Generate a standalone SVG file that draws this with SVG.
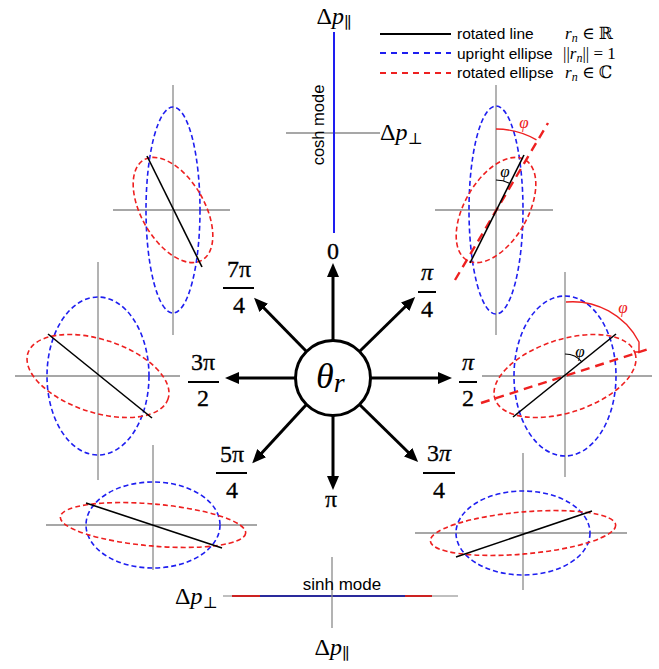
<svg xmlns="http://www.w3.org/2000/svg" width="659" height="669" viewBox="0 0 659 669">
<style>
.ax{stroke:#8a8a8a;stroke-width:1.3;fill:none}
.bl{stroke:#1e1ef0;stroke-width:1.6;fill:none;stroke-dasharray:5 3}
.rd{stroke:#ee2020;stroke-width:1.6;fill:none;stroke-dasharray:5 3}
.ln{stroke:#000;stroke-width:1.6;fill:none}
.rdl{stroke:#ee2020;stroke-width:2.4;fill:none;stroke-dasharray:9 6}
.arcr{stroke:#ee2020;stroke-width:1.4;fill:none}
.arck{stroke:#000;stroke-width:1.2;fill:none}
.sans{font-family:"Liberation Sans",Arial,sans-serif;fill:#000}
.ser{font-family:"Liberation Serif","DejaVu Serif",serif;fill:#000}
.frac{font-family:"Liberation Serif","DejaVu Serif",serif;font-size:24px;text-anchor:middle;fill:#000;stroke:#000;stroke-width:0.3}
.bar{stroke:#000;stroke-width:2}
.arr{stroke:#000;stroke-width:3;fill:none;marker-end:url(#ah)}
</style>
<defs>
<marker id="ah" markerUnits="userSpaceOnUse" markerWidth="15" markerHeight="12" refX="4" refY="6" orient="auto">
<path d="M0,0 L14,6 L0,12 z" fill="#000"/>
</marker>
</defs>
<rect width="659" height="669" fill="#fff"/>

<!-- legend -->
<g id="legend">
<line x1="380" y1="34" x2="451" y2="34" stroke="#000" stroke-width="2"/>
<line x1="380" y1="53" x2="451" y2="53" stroke="#1e1ef0" stroke-width="2" stroke-dasharray="6 5"/>
<line x1="380" y1="73" x2="451" y2="73" stroke="#ee2020" stroke-width="2" stroke-dasharray="6 5"/>
<text class="sans" x="457" y="39" font-size="15.5">rotated line</text>
<text class="sans" x="457" y="58.5" font-size="15.5">upright ellipse</text>
<text class="sans" x="457" y="78" font-size="15.5">rotated ellipse</text>
<text class="ser" x="565" y="39" font-size="17"><tspan font-style="italic">r</tspan><tspan font-style="italic" font-size="12" dy="3">n</tspan><tspan dy="-3"> ∈ ℝ</tspan></text>
<text class="ser" x="563" y="58.5" font-size="17">||<tspan font-style="italic">r</tspan><tspan font-style="italic" font-size="12" dy="3">n</tspan><tspan dy="-3">|| = 1</tspan></text>
<text class="ser" x="565" y="78" font-size="17"><tspan font-style="italic">r</tspan><tspan font-style="italic" font-size="12" dy="3">n</tspan><tspan dy="-3"> ∈ ℂ</tspan></text>
</g>

<!-- cosh mode (0) -->
<g id="cosh">
<line class="ax" x1="286" y1="133" x2="380" y2="133"/>
<line x1="334" y1="32" x2="334" y2="233" stroke="#1e1ef0" stroke-width="2"/>
<text class="ser" x="334" y="24" font-size="24" text-anchor="middle">Δ<tspan font-style="italic">p</tspan><tspan font-size="16" dy="4">∥</tspan></text>
<text class="ser" x="380" y="140" font-size="24">Δ<tspan font-style="italic">p</tspan><tspan font-size="16" dy="4">⊥</tspan></text>
<text class="sans" font-size="16.5" text-anchor="middle" transform="translate(324,125) rotate(-90)">cosh mode</text>
</g>

<!-- pi/4 -->
<g id="e_pi4" transform="translate(496,210)">
<line class="ax" x1="0" y1="-125" x2="0" y2="125"/>
<line class="ax" x1="-61" y1="0" x2="57" y2="0"/>
<ellipse class="bl" cx="0" cy="0" rx="27" ry="104"/>
<ellipse class="rd" cx="0" cy="0" rx="31.5" ry="58" transform="rotate(30)"/>
<line class="rdl" x1="-41" y1="70" x2="52" y2="-87"/>
<line class="ln" x1="-26" y1="53" x2="28" y2="-55"/>
<path class="arcr" d="M0,-81 A81,81 0 0 1 40.5,-70.1"/>
<path class="arck" d="M0,-30 A30,30 0 0 1 13.4,-26.8"/>
<text class="ser" x="28" y="-82" font-size="17" font-style="italic" style="fill:#ee2020" text-anchor="middle">φ</text>
<text class="ser" x="9" y="-33" font-size="17" font-style="italic" text-anchor="middle">φ</text>
</g>

<!-- pi/2 -->
<g id="e_pi2" transform="translate(565,376)">
<line class="ax" x1="0" y1="-104" x2="0" y2="101"/>
<line class="ax" x1="-83" y1="0" x2="87" y2="0"/>
<ellipse class="bl" cx="0" cy="0" rx="51" ry="80"/>
<ellipse class="rd" cx="0" cy="0" rx="73.7" ry="36.5" transform="rotate(-18)"/>
<line class="rdl" x1="-84" y1="27" x2="87" y2="-28"/>
<line class="ln" x1="-52" y1="41" x2="51" y2="-42"/>
<path class="arcr" d="M1,-74 A75,75 0 0 1 74,-34 L74,-24 L70,-24"/>
<path class="arck" d="M0,-22 A22,22 0 0 1 17.1,-13.8"/>
<text class="ser" x="58" y="-63" font-size="17" font-style="italic" style="fill:#ee2020" text-anchor="middle">φ</text>
<text class="ser" x="15" y="-19" font-size="17" font-style="italic" text-anchor="middle">φ</text>
</g>

<!-- 3pi/4 -->
<g id="e_3pi4" transform="translate(523,533)">
<line class="ax" x1="0" y1="-80" x2="0" y2="57"/>
<line class="ax" x1="-108" y1="0" x2="104" y2="0"/>
<ellipse class="bl" cx="0" cy="0" rx="67" ry="42"/>
<ellipse class="rd" cx="0" cy="0" rx="93" ry="21" transform="rotate(-5)"/>
<line class="ln" x1="-67" y1="24" x2="69" y2="-22"/>
</g>

<!-- pi : sinh mode -->
<g id="sinh">
<line class="ax" x1="223" y1="596" x2="458" y2="596" style="stroke:#aaaaaa"/>
<line x1="232" y1="596" x2="432" y2="596" stroke="#cc2222" stroke-width="2.2"/>
<line x1="260" y1="596" x2="405" y2="596" stroke="#2a2a9c" stroke-width="2.2"/>
<line class="ax" x1="332" y1="557" x2="332" y2="628"/>
<text class="sans" x="342" y="590" font-size="17" text-anchor="middle">sinh mode</text>
<text class="ser" x="175" y="604" font-size="24">Δ<tspan font-style="italic">p</tspan><tspan font-size="16" dy="4">⊥</tspan></text>
<text class="ser" x="332" y="655" font-size="24" text-anchor="middle">Δ<tspan font-style="italic">p</tspan><tspan font-size="16" dy="4">∥</tspan></text>
</g>

<!-- 5pi/4 -->
<g id="e_5pi4" transform="translate(153,525)">
<line class="ax" x1="0" y1="-80" x2="0" y2="45"/>
<line class="ax" x1="-107" y1="0" x2="104" y2="0"/>
<ellipse class="bl" cx="0" cy="0" rx="67" ry="43"/>
<ellipse class="rd" cx="0" cy="0" rx="93" ry="21" transform="rotate(5)"/>
<line class="ln" x1="-67" y1="-22" x2="69" y2="23"/>
</g>

<!-- 3pi/2 -->
<g id="e_3pi2" transform="translate(98,376)">
<line class="ax" x1="0" y1="-114" x2="0" y2="104"/>
<line class="ax" x1="-83" y1="0" x2="82" y2="0"/>
<ellipse class="bl" cx="0" cy="0" rx="51" ry="79"/>
<ellipse class="rd" cx="0" cy="0" rx="73.7" ry="36.5" transform="rotate(18)"/>
<line class="ln" x1="-50" y1="-42" x2="54" y2="42"/>
</g>

<!-- 7pi/4 -->
<g id="e_7pi4" transform="translate(173,210)">
<line class="ax" x1="0" y1="-125" x2="0" y2="125"/>
<line class="ax" x1="-60" y1="0" x2="57" y2="0"/>
<ellipse class="bl" cx="0" cy="0" rx="27" ry="103"/>
<ellipse class="rd" cx="0" cy="0" rx="31.5" ry="58" transform="rotate(-30)"/>
<line class="ln" x1="-26" y1="-54" x2="29" y2="57"/>
</g>

<!-- centre -->
<g id="center">
<circle cx="333" cy="378" r="37.5" fill="#fff" stroke="#000" stroke-width="3"/>
<text class="ser" x="316" y="388" font-size="36" font-style="italic">θ<tspan font-size="28" dy="4">r</tspan></text>
</g>

<g id="connectors">
<line class="arr" x1="333" y1="340" x2="333" y2="273"/>
<line class="arr" x1="333" y1="416" x2="333" y2="480"/>
<line class="arr" x1="371" y1="378" x2="442" y2="378"/>
<line class="arr" x1="295" y1="378" x2="235" y2="378"/>
<line class="arr" x1="360" y1="351" x2="408" y2="304"/>
<line class="arr" x1="306" y1="351" x2="261" y2="305"/>
<line class="arr" x1="306" y1="405" x2="259" y2="456"/>
<line class="arr" x1="360" y1="405" x2="411" y2="455"/>
</g>

<g id="labels">
<text class="frac" x="333" y="259">0</text>
<text class="frac" x="427" y="280" font-style="italic">π</text>
<line class="bar" x1="418" y1="292" x2="436" y2="292"/>
<text class="frac" x="427" y="317">4</text>
<text class="frac" x="468" y="370" font-style="italic">π</text>
<line class="bar" x1="459" y1="382" x2="477" y2="382"/>
<text class="frac" x="468" y="406">2</text>
<text class="frac" x="439" y="461"><tspan>3</tspan><tspan font-style="italic">π</tspan></text>
<line class="bar" x1="423" y1="473" x2="455" y2="473"/>
<text class="frac" x="439" y="498">4</text>
<text class="frac" x="331" y="507">π</text>
<text class="frac" x="232" y="462">5π</text>
<line class="bar" x1="216" y1="473" x2="247" y2="473"/>
<text class="frac" x="232" y="498">4</text>
<text class="frac" x="203" y="370">3π</text>
<line class="bar" x1="188" y1="382" x2="219" y2="382"/>
<text class="frac" x="203" y="406">2</text>
<text class="frac" x="239" y="277">7π</text>
<line class="bar" x1="223" y1="288" x2="254" y2="288"/>
<text class="frac" x="239" y="313">4</text>
</g>
</svg>
